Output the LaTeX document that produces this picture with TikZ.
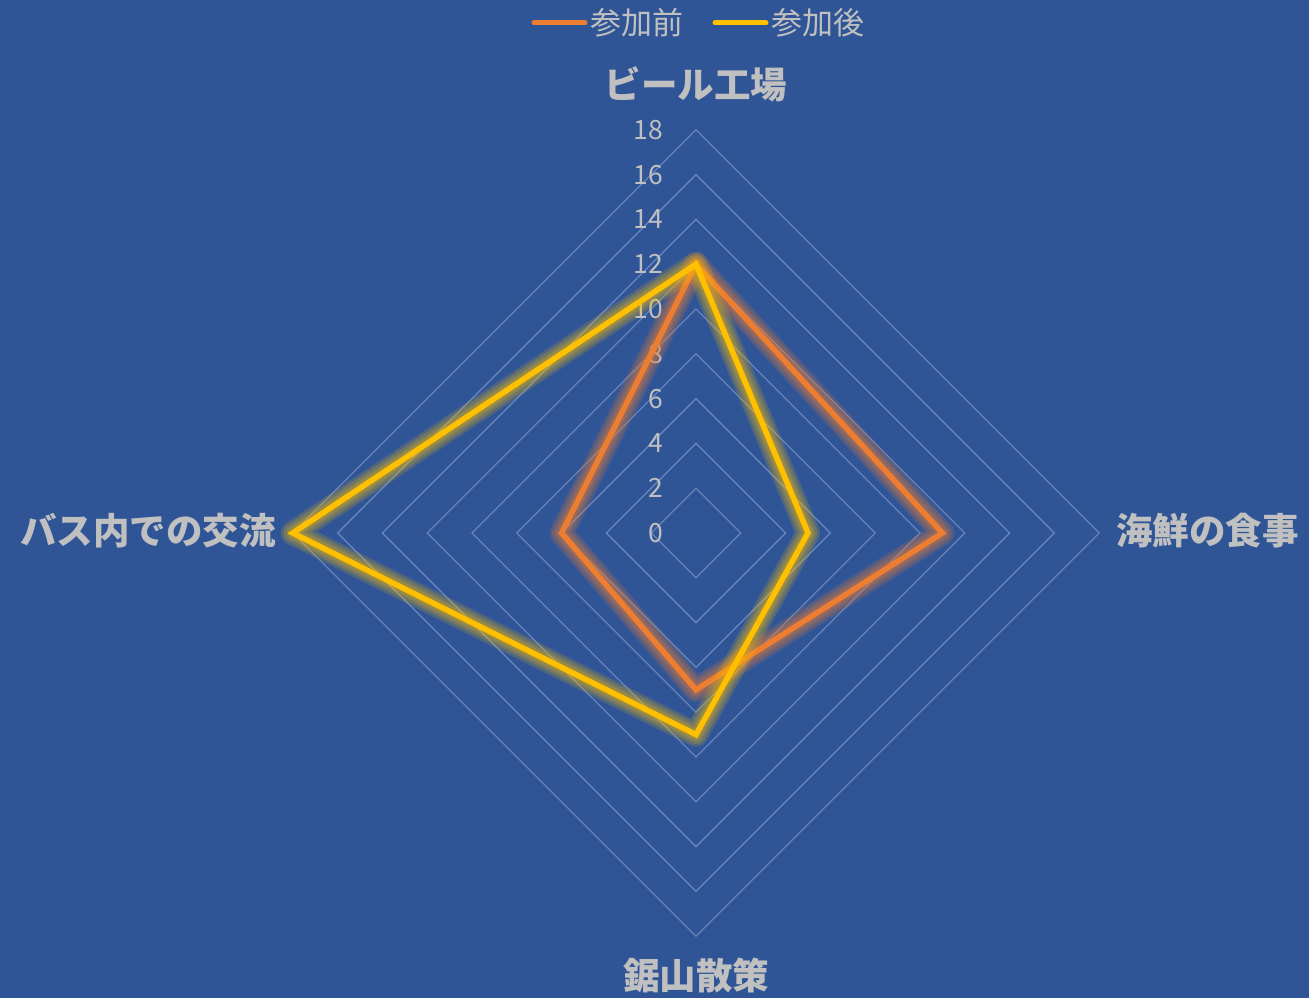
\documentclass[tikz,border=0pt]{standalone}
\usepackage{fontspec}
\setmainfont{Noto Sans CJK JP}
\definecolor{bgblue}{HTML}{2F5597}
\definecolor{gridc}{HTML}{6683BA}
\definecolor{serA}{HTML}{ED7D31}
\definecolor{serB}{HTML}{FFC000}
\definecolor{txtc}{HTML}{C0C0C0}
\tikzset{
  gridline/.style={draw=gridc, line width=1.3pt},
  tick/.style={text=txtc, font=\fontsize{26.5}{30}\selectfont, anchor=east, inner sep=0pt},
  cat/.style={text=txtc, font=\fontsize{36.5}{42}\selectfont\bfseries, inner sep=0pt},
  legtxt/.style={text=txtc, font=\fontsize{31}{36}\selectfont, anchor=west, inner sep=0pt},
  serline/.style={line width=5.5pt, line join=miter},
  glowA/.style={line width=#1, draw=serA, opacity=0.18, line join=round},
  glowB/.style={line width=#1, draw=serB, opacity=0.17, line join=round},
}
\begin{document}
\begin{tikzpicture}[x=1pt,y=-1pt]
\fill[bgblue] (0,0) rectangle (1309,998);
\useasboundingbox (0,0) rectangle (1309,998);
\def\cx{696}\def\cy{533}\def\u{22.4}
% grid
\foreach \k in {2,4,...,18}{
  \draw[gridline] (\cx,\cy-\k*\u) -- (\cx+\k*\u,\cy) -- (\cx,\cy+\k*\u) -- (\cx-\k*\u,\cy) -- cycle;
}
% tick labels
\foreach \k in {0,2,...,18}{
  \node[tick] (t\k) at (663,\cy-\k*\u) {\k};
}
% series coordinates
\coordinate (a1) at (\cx,\cy-12*\u);
\coordinate (a2) at (\cx+11*\u,\cy);
\coordinate (a3) at (\cx,\cy+7*\u);
\coordinate (a4) at (\cx-6*\u,\cy);
\coordinate (b1) at (\cx,\cy-12*\u);
\coordinate (b2) at (\cx+5*\u,\cy);
\coordinate (b3) at (\cx,\cy+9*\u);
\coordinate (b4) at (\cx-18*\u,\cy);
% series A (参加前)
\foreach \w in {24pt,19pt,14pt,10pt}{
  \draw[glowA=\w] (a1) -- (a2) -- (a3) -- (a4) -- cycle;
}
\draw[serline, draw=serA] (a1) -- (a2) -- (a3) -- (a4) -- cycle;
% series B (参加後)
\foreach \w in {24pt,19pt,14pt,10pt}{
  \draw[glowB=\w] (b1) -- (b2) -- (b3) -- (b4) -- cycle;
}
\draw[serline, draw=serB] (b1) -- (b2) -- (b3) -- (b4) -- cycle;
% category labels
\node[cat] (c1) at (696,84) {ビール工場};
\node[cat, anchor=west] (c2) at (1116,531) {海鮮の食事};
\node[cat] (c3) at (696,976) {鋸山散策};
\node[cat, anchor=east] (c4) at (276,531) {バス内での交流};
% legend
\coordinate (la0) at (534,23);
\coordinate (la1) at (585,23);
\draw[serA, line width=5pt, line cap=round] (la0) -- (la1);
\node[legtxt] (l1) at (590,23) {参加前};
\coordinate (lb0) at (715,23);
\coordinate (lb1) at (766,23);
\draw[serB, line width=5pt, line cap=round] (lb0) -- (lb1);
\node[legtxt] (l2) at (771,23) {参加後};
\end{tikzpicture}
\end{document}
